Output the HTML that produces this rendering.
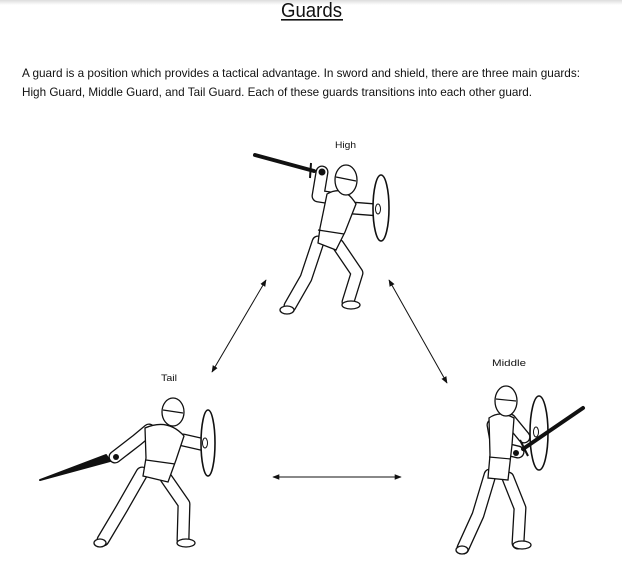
<!DOCTYPE html>
<html><head><meta charset="utf-8"><style>
html,body{margin:0;padding:0;background:#fff;}
svg{display:block;}
.o{stroke:#111;stroke-width:13;fill:none;stroke-linecap:round;stroke-linejoin:round}
.i{stroke:#fff;stroke-width:10.4;fill:none;stroke-linecap:round;stroke-linejoin:round}
.s{stroke:#111;stroke-width:1.3;fill:#fff}
.t{font-family:"Liberation Sans",sans-serif;fill:#111}
</style></head><body>
<svg width="622" height="572" viewBox="0 0 622 572" xmlns="http://www.w3.org/2000/svg">
<defs>
<linearGradient id="g" x1="0" y1="0" x2="0" y2="1"><stop offset="0" stop-color="#ddd"/><stop offset="1" stop-color="#fff"/></linearGradient>
<marker id="a" viewBox="0 0 10 10" refX="9" refY="5" markerWidth="7" markerHeight="7" orient="auto-start-reverse"><path d="M0,1 L10,5 L0,9 Z" fill="#111"/></marker>
</defs>
<rect x="0" y="0" width="622" height="5" fill="url(#g)"/>
<text class="t" x="281" y="17" font-size="20" textLength="61" lengthAdjust="spacingAndGlyphs">Guards</text>
<rect x="281" y="19" width="62" height="1.6" fill="#111"/>
<text class="t" x="22" y="77" font-size="12" textLength="558" lengthAdjust="spacingAndGlyphs">A guard is a position which provides a tactical advantage. In sword and shield, there are three main guards:</text>
<text class="t" x="22" y="96" font-size="12" textLength="510" lengthAdjust="spacingAndGlyphs">High Guard, Middle Guard, and Tail Guard. Each of these guards transitions into each other guard.</text>
<text class="t" x="335" y="148" font-size="9.5" textLength="21" lengthAdjust="spacingAndGlyphs">High</text>
<text class="t" x="161" y="381" font-size="9.5" textLength="16" lengthAdjust="spacingAndGlyphs">Tail</text>
<text class="t" x="492" y="366" font-size="9.5" textLength="34" lengthAdjust="spacingAndGlyphs">Middle</text>

<g stroke="#111" stroke-width="1" marker-start="url(#a)" marker-end="url(#a)">
<line x1="212" y1="372" x2="266" y2="280"/>
<line x1="389" y1="280" x2="447" y2="383"/>
<line x1="273" y1="477" x2="401" y2="477"/>
</g>

<!-- High figure -->
<line x1="255" y1="155" x2="314" y2="171" stroke="#111" stroke-width="4" stroke-linecap="round"/>
<line x1="311" y1="163" x2="310" y2="178" stroke="#111" stroke-width="2"/>
<g>
<path class="o" d="M322,172 L318,196 L331,198 M352,208 L378,210 M318,242 L306,278 L290,306 M338,245 L357,273 L348,302"/>
<path class="i" d="M322,172 L318,196 L331,198 M352,208 L378,210 M318,242 L306,278 L290,306 M338,245 L357,273 L348,302"/>
</g>
<path class="s" d="M327,194 Q344,184 356,204 L345,232 L336,250 L318,243 L320,228 Z"/>
<line x1="318" y1="230" x2="344" y2="234" stroke="#111" stroke-width="1.2"/>
<ellipse class="s" cx="346" cy="180" rx="11" ry="15"/>
<line x1="336" y1="177" x2="356" y2="181" stroke="#111" stroke-width="1.2"/>
<ellipse class="s" cx="287" cy="310" rx="7" ry="4"/>
<ellipse class="s" cx="351" cy="305" rx="9" ry="4"/>
<circle cx="322" cy="172" r="3.5" fill="#111"/>
<ellipse cx="381" cy="208" rx="8" ry="33" fill="#fff" stroke="#111" stroke-width="1.6"/>
<ellipse cx="378" cy="209" rx="2.5" ry="5" fill="#fff" stroke="#111" stroke-width="1"/>

<!-- Tail figure -->
<path d="M40,480 L106,455 L110,461 Z" fill="#111" stroke="#111" stroke-width="2" stroke-linejoin="round"/>
<g>
<path class="o" d="M115,457 L137,440 L149,430 M183,440 L205,445 M142,473 L122,508 L103,540 M166,478 L184,504 L183,540"/>
<path class="i" d="M115,457 L137,440 L149,430 M183,440 L205,445 M142,473 L122,508 L103,540 M166,478 L184,504 L183,540"/>
</g>
<path class="s" d="M145,428 Q168,418 184,436 L176,460 L168,482 L143,476 L146,458 Z"/>
<line x1="146" y1="460" x2="175" y2="464" stroke="#111" stroke-width="1.2"/>
<ellipse class="s" cx="173" cy="412" rx="11" ry="14"/>
<line x1="163" y1="410" x2="183" y2="413" stroke="#111" stroke-width="1.2"/>
<ellipse class="s" cx="100" cy="543" rx="6" ry="4"/>
<ellipse class="s" cx="186" cy="543" rx="9" ry="4"/>
<circle cx="116" cy="457" r="3" fill="#111"/>
<ellipse cx="208" cy="443" rx="7" ry="33" fill="#fff" stroke="#111" stroke-width="1.6"/>
<ellipse cx="205" cy="443" rx="2.5" ry="5" fill="#fff" stroke="#111" stroke-width="1"/>

<!-- Middle figure -->
<g>
<path class="o" d="M493,425 L497,447 L518,452 M510,420 L524,437 M490,475 L478,515 L463,548 M508,478 L520,508 L518,543"/>
<path class="i" d="M493,425 L497,447 L518,452 M510,420 L524,437 M490,475 L478,515 L463,548 M508,478 L520,508 L518,543"/>
</g>
<path class="s" d="M489,418 Q500,410 514,418 L512,445 L508,480 L488,478 L490,455 Z"/>
<line x1="489" y1="457" x2="511" y2="459" stroke="#111" stroke-width="1.2"/>
<ellipse class="s" cx="506" cy="401" rx="11" ry="15"/>
<line x1="496" y1="399" x2="516" y2="401" stroke="#111" stroke-width="1.2"/>
<ellipse class="s" cx="462" cy="550" rx="6" ry="4"/>
<ellipse class="s" cx="522" cy="545" rx="9" ry="4"/>
<ellipse cx="539" cy="433" rx="9" ry="37" fill="#fff" stroke="#111" stroke-width="1.6"/>
<ellipse cx="536" cy="432" rx="2.5" ry="5" fill="#fff" stroke="#111" stroke-width="1"/>
<line x1="523" y1="449" x2="583" y2="408" stroke="#111" stroke-width="4" stroke-linecap="round"/>
<line x1="520" y1="440" x2="528" y2="456" stroke="#111" stroke-width="2"/>
<circle cx="516" cy="453" r="3" fill="#111"/>
</svg>
</body></html>
